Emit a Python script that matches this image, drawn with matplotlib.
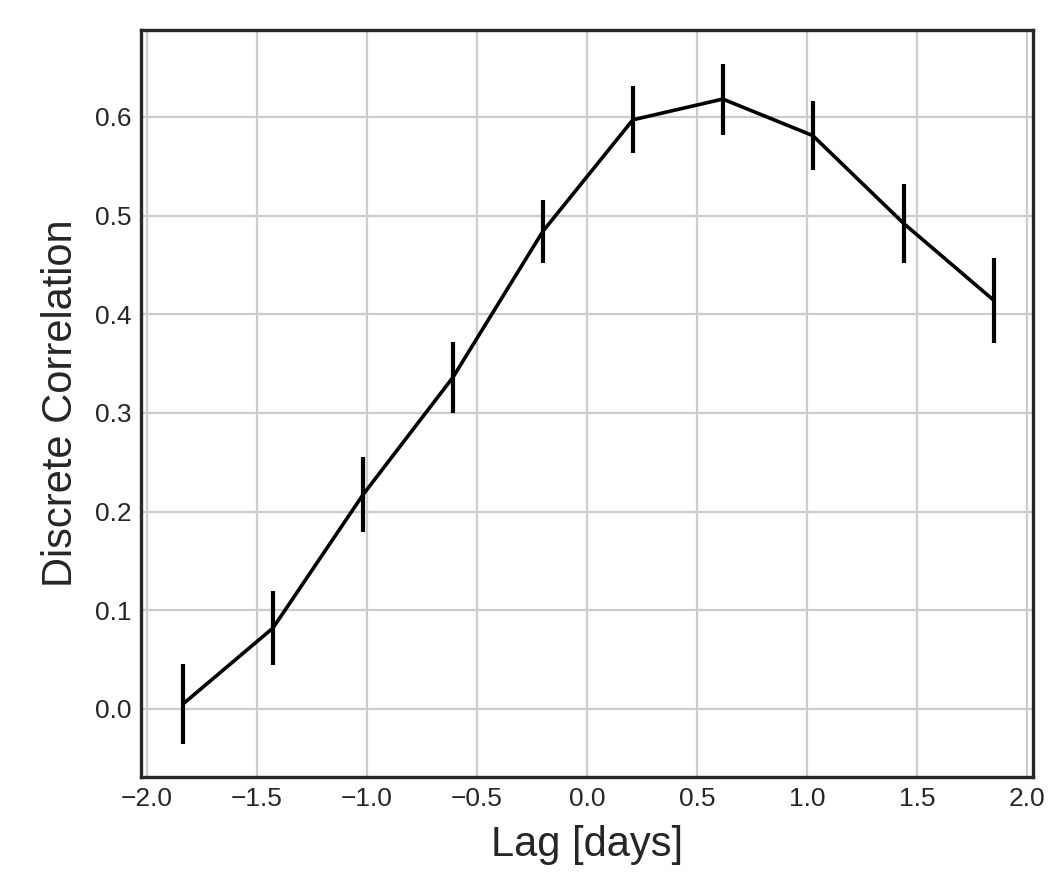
import matplotlib
matplotlib.use("Agg")
import matplotlib.pyplot as plt

lags = [-1.836, -1.427, -1.018, -0.609, -0.200, 0.209, 0.618, 1.027, 1.440, 1.850]
dcf = [0.005, 0.082, 0.217, 0.336, 0.484, 0.597, 0.618, 0.581, 0.492, 0.414]
dcf_err = [0.041, 0.037, 0.038, 0.036, 0.032, 0.034, 0.036, 0.035, 0.040, 0.043]

plt.style.use("seaborn-v0_8-whitegrid")
plt.rcParams["font.family"] = ["Liberation Sans", "DejaVu Sans"]

fig = plt.figure(figsize=(10.63 / 2, 8.93 / 2), dpi=200)
ax = fig.add_axes([141 / 1063, 1 - 777 / 893, 892 / 1063, 747 / 893])

ax.errorbar(lags, dcf, yerr=dcf_err, color="black", linewidth=1.3,
            elinewidth=1.5, capsize=0)

ax.set_xlim(-2.027, 2.028)
ax.set_ylim(-0.069, 0.688)
ax.set_xticks([-2.0, -1.5, -1.0, -0.5, 0.0, 0.5, 1.0, 1.5, 2.0])
ax.set_yticks([0.0, 0.1, 0.2, 0.3, 0.4, 0.5, 0.6])
ax.tick_params(labelsize=9.5, colors="#262626")
ax.set_xlabel("Lag [days]", fontsize=15, color="#262626", labelpad=5)
ax.set_ylabel("Discrete Correlation", fontsize=15, color="#262626", labelpad=5)
for s in ax.spines.values():
    s.set_visible(True)
    s.set_color("#262626")
    s.set_linewidth(1.2)
ax.grid(True, color="#cccccc", linewidth=0.8)

fig.savefig("out.png", dpi=200)
